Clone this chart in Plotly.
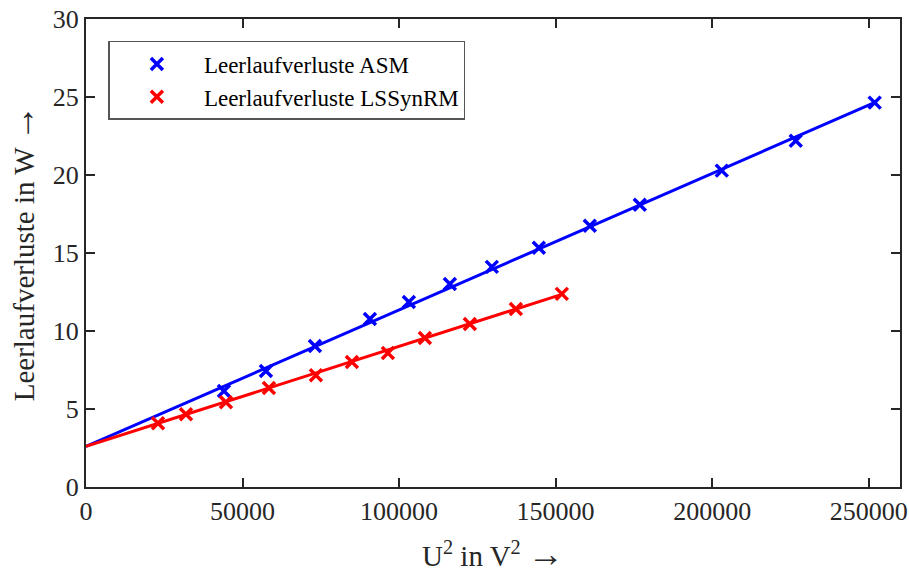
import plotly.graph_objects as go

# Measured points (U^2 in V^2, losses in W)
asm_u2 = [44060, 57470, 73120, 90680, 103130, 116220, 129630, 144640, 160920, 176890, 203070, 226700, 251920]
asm_p = [6.15, 7.43, 9.04, 10.77, 11.86, 13.02, 14.11, 15.33, 16.74, 18.09, 20.28, 22.20, 24.64]

syn_u2 = [22990, 31930, 44700, 58430, 73440, 84930, 96430, 108240, 122610, 137300, 151990]
syn_p = [4.09, 4.67, 5.44, 6.34, 7.17, 8.01, 8.59, 9.55, 10.45, 11.41, 12.38]

# Linear fit lines (endpoints)
asm_fit_x = [0, 252000]
asm_fit_y = [2.6, 24.65]
syn_fit_x = [0, 152000]
syn_fit_y = [2.6, 12.35]

x_ticks = [0, 50000, 100000, 150000, 200000, 250000]
y_ticks = [0, 5, 10, 15, 20, 25, 30]

BLUE = "rgb(0,0,255)"
RED = "rgb(255,0,0)"
FONT = "Liberation Serif"
DARK = "#262626"

fig = go.Figure()
fig.add_trace(go.Scatter(x=asm_fit_x, y=asm_fit_y, mode="lines",
                         line=dict(color=BLUE, width=3), showlegend=False, hoverinfo="skip"))
fig.add_trace(go.Scatter(x=syn_fit_x, y=syn_fit_y, mode="lines",
                         line=dict(color=RED, width=3), showlegend=False, hoverinfo="skip"))
fig.add_trace(go.Scatter(x=asm_u2, y=asm_p, mode="markers", name="Leerlaufverluste ASM",
                         marker=dict(symbol="x-thin", size=12, line=dict(color=BLUE, width=3.5), color=BLUE)))
fig.add_trace(go.Scatter(x=syn_u2, y=syn_p, mode="markers", name="Leerlaufverluste LSSynRM",
                         marker=dict(symbol="x-thin", size=12, line=dict(color=RED, width=3.5), color=RED)))

axis_common = dict(showline=True, linecolor=DARK, linewidth=2, mirror="ticks",
                   ticks="inside", ticklen=9, tickwidth=2, tickcolor=DARK,
                   showgrid=False, zeroline=False, automargin=False,
                   tickfont=dict(family=FONT, size=26, color=DARK))

ARROW = '<span style="font-size:36px">\u2192</span>'

fig.update_xaxes(range=[0, 260000], tickvals=x_ticks, ticktext=[str(v) for v in x_ticks],
                 title=dict(text="U<sup>2</sup> in V<sup>2</sup> " + ARROW,
                            font=dict(family=FONT, size=29, color=DARK), standoff=22),
                 **axis_common)
fig.update_yaxes(range=[0, 30], tickvals=y_ticks, ticktext=[str(v) for v in y_ticks],
                 title=dict(text="Leerlaufverluste in W " + ARROW,
                            font=dict(family=FONT, size=29, color=DARK), standoff=10),
                 **axis_common)

fig.update_layout(
    width=909, height=574,
    margin=dict(l=86, r=9, t=19, b=87),
    plot_bgcolor="white", paper_bgcolor="white",
    font=dict(family=FONT, color=DARK),
    legend=dict(x=0.0275, y=0.953, xanchor="left", yanchor="top",
                bgcolor="white", bordercolor="#555555", borderwidth=1.5,
                font=dict(family=FONT, size=23, color="black"),
                itemwidth=84, tracegroupgap=0),
)

fig.write_html("out.html", config={"displayModeBar": False},
               post_script="document.body.style.margin='0';document.body.style.overflow='hidden';")
